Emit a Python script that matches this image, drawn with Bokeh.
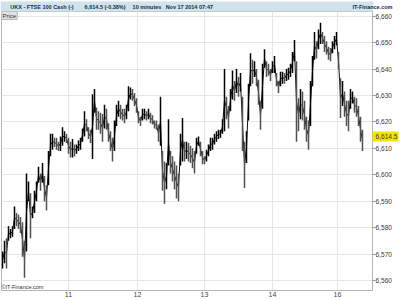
from bokeh.plotting import figure
from bokeh.models import (Range1d, Label, FixedTicker, NumeralTickFormatter,
                          ColumnDataSource, LinearAxis)
from bokeh.embed import file_html
from bokeh.resources import INLINE

highs = [6571.0, 6575.0, 6576.0, 6580.5, 6579.5, 6580.5, 6588.0, 6585.5, 6585.0, 6584.0,
         6582.0, 6575.0, 6600.5, 6597.5, 6593.0, 6588.0, 6594.0, 6597.5, 6603.0, 6600.5,
         6604.5, 6599.5, 6596.0, 6609.0, 6615.5, 6615.5, 6614.0, 6614.0, 6612.5, 6614.5,
         6618.0, 6616.5, 6615.5, 6614.0, 6612.5, 6613.5, 6611.5, 6611.5, 6613.0, 6614.0,
         6617.5, 6624.0, 6621.0, 6618.0, 6617.0, 6630.5, 6632.5, 6625.5, 6624.0, 6623.5,
         6623.0, 6626.5, 6625.0, 6619.5, 6616.5, 6614.0, 6620.5, 6626.5, 6628.0, 6626.5,
         6625.0, 6625.0, 6626.5, 6633.5, 6633.0, 6632.5, 6631.0, 6629.0, 6624.0, 6622.0,
         6625.0, 6625.0, 6624.0, 6625.0, 6623.5, 6622.5, 6620.5, 6620.5, 6619.0, 6629.5,
         6609.0, 6605.0, 6604.5, 6621.0, 6609.0, 6607.0, 6605.0, 6603.5, 6600.5, 6615.5,
         6621.5, 6612.5, 6612.5, 6612.0, 6611.0, 6610.0, 6609.0, 6614.0, 6614.5, 6612.5,
         6609.0, 6607.0, 6609.5, 6611.5, 6614.0, 6614.0, 6615.5, 6616.5, 6617.0, 6617.0,
         6621.0, 6640.0, 6629.5, 6626.0, 6632.5, 6639.5, 6635.5, 6640.0, 6637.0, 6638.5,
         6629.5, 6612.5, 6616.5, 6634.5, 6646.0, 6643.5, 6643.0, 6640.0, 6636.0, 6628.0,
         6642.0, 6647.5, 6643.0, 6642.0, 6640.0, 6643.0, 6645.0, 6638.5, 6635.5, 6639.0,
         6639.0, 6638.5, 6640.0, 6640.5, 6642.0, 6646.5, 6651.0, 6643.0, 6629.0, 6632.5,
         6631.5, 6628.0, 6622.0, 6620.5, 6635.5, 6645.0, 6654.0, 6650.5, 6655.0, 6657.5,
         6654.0, 6652.5, 6650.5, 6648.5, 6648.0, 6650.5, 6652.5, 6654.0, 6646.5, 6636.5,
         6635.5, 6631.5, 6628.0, 6628.0, 6632.5, 6631.5, 6629.5, 6629.0, 6626.0, 6622.0,
         6617.0]
lows = [6564.5, 6566.5, 6564.5, 6575.0, 6576.0, 6576.5, 6579.5, 6580.5, 6579.5, 6578.0,
        6569.0, 6561.0, 6571.0, 6590.0, 6576.0, 6583.5, 6585.5, 6590.0, 6597.0, 6594.0,
        6597.0, 6590.0, 6586.5, 6596.0, 6607.0, 6609.5, 6610.5, 6609.5, 6609.0, 6609.0,
        6611.0, 6612.5, 6612.0, 6608.0, 6606.5, 6606.5, 6607.0, 6608.0, 6609.0, 6609.5,
        6612.5, 6614.5, 6616.5, 6613.5, 6612.0, 6606.0, 6623.5, 6617.0, 6617.0, 6615.5,
        6612.5, 6617.5, 6617.0, 6612.5, 6609.0, 6605.0, 6609.0, 6618.5, 6622.0, 6621.0,
        6620.5, 6619.5, 6621.0, 6624.0, 6628.5, 6628.0, 6626.0, 6623.5, 6619.5, 6618.5,
        6620.5, 6621.0, 6620.5, 6621.0, 6619.5, 6619.0, 6617.5, 6617.0, 6612.5, 6611.0,
        6594.0, 6589.0, 6594.5, 6603.5, 6600.5, 6597.5, 6594.5, 6591.0, 6590.0, 6603.5,
        6605.0, 6605.0, 6606.0, 6605.0, 6604.5, 6602.5, 6600.5, 6608.0, 6611.0, 6607.0,
        6604.0, 6604.0, 6605.0, 6607.0, 6609.0, 6609.5, 6611.5, 6612.5, 6613.5, 6614.0,
        6615.5, 6616.5, 6621.0, 6617.5, 6624.0, 6628.5, 6628.0, 6631.0, 6629.5, 6631.5,
        6609.0, 6595.0, 6604.5, 6620.5, 6633.5, 6634.5, 6637.0, 6633.5, 6626.5, 6617.0,
        6625.0, 6640.5, 6637.0, 6637.5, 6635.5, 6638.5, 6638.5, 6633.5, 6631.0, 6633.5,
        6634.5, 6634.5, 6635.5, 6636.0, 6637.0, 6638.5, 6643.0, 6612.5, 6616.5, 6621.0,
        6620.5, 6617.0, 6612.5, 6609.5, 6618.5, 6633.5, 6643.5, 6644.0, 6647.5, 6649.5,
        6649.5, 6646.5, 6645.5, 6643.5, 6643.0, 6646.0, 6647.5, 6649.0, 6640.0, 6621.5,
        6626.0, 6622.0, 6618.5, 6616.5, 6625.0, 6627.0, 6623.5, 6622.0, 6618.5, 6612.5,
        6609.0]

day_ticks = [33, 67.5, 101, 135, 167.5]
day_labels = ["11", "12", "13", "14", "16"]
price_ticks = [6560, 6570, 6580, 6590, 6600, 6610, 6620, 6630, 6640, 6650, 6660]
last_price = 6614.5
last_price_text = "6,614.5"
header_left = ("UKX - FTSE 100 Cash (-)\u2003\u20036,614.5 (-0.38%)\u2003 10 minutes\u2002 "
               "Nov 17 2014 07:47")
header_right = "IT-Finance.com"

X_START, X_END = -0.5, 185.0
# layout constants: centres (on the bar axis) of the two header texts
HEADER_LEFT_POS = 54.6
HEADER_RIGHT_POS = X_END

idx = list(range(len(highs)))
mids = [(h + l) / 2 for h, l in zip(highs, lows)]
colors = ["#000000" if i == 0 or mids[i] >= mids[i - 1] else "#505050" for i in idx]
src = ColumnDataSource(dict(x=idx, high=highs, low=lows, mid=mids, color=colors))

p = figure(width=400, height=300, output_backend="svg", toolbar_location=None,
           x_range=Range1d(X_START, X_END), y_range=Range1d(6556.2, 6661.8),
           y_axis_location="right", min_border_left=1, min_border_right=28,
           min_border_top=10, min_border_bottom=10)
p.background_fill_color = "white"
p.border_fill_color = "white"
p.outline_line_color = "#b5b5b5"

p.line(x="x", y="mid", line_color="#111111", line_width=1.0, source=src)
p.segment(x0="x", y0="low", x1="x", y1="high", line_color="color", line_width=1.5, source=src)

p.xgrid.ticker = FixedTicker(ticks=day_ticks)
p.ygrid.ticker = FixedTicker(ticks=price_ticks)
p.xgrid.grid_line_color = "#e6e6e6"
p.ygrid.grid_line_color = "#e6e6e6"

xa = p.xaxis[0]
xa.ticker = FixedTicker(ticks=day_ticks)
xa.major_label_overrides = {float(t): l for t, l in zip(day_ticks, day_labels)}
xa.major_tick_out = 0
xa.major_tick_in = 0
xa.minor_tick_out = 0
xa.minor_tick_in = 0
xa.major_label_standoff = 1
xa.major_label_text_font_size = "7px"
xa.major_label_text_font = "Liberation Sans"
xa.major_label_text_color = "#444444"
xa.axis_line_color = "#b5b5b5"

# right price axis; its single minor tick, drawn thick and yellow, marks the last price
ya = p.yaxis[0]
ya.ticker = FixedTicker(ticks=price_ticks + [last_price], minor_ticks=[last_price])
ya.formatter = NumeralTickFormatter(format="0,0")
ya.major_label_overrides = {last_price: last_price_text}
ya.major_tick_out = 3
ya.major_tick_in = 0
ya.minor_tick_out = 26
ya.minor_tick_in = 0
ya.minor_tick_line_width = 10
ya.minor_tick_line_color = "#f2e400"
ya.major_tick_line_color = "#999999"
ya.major_label_standoff = -23
ya.major_label_text_font_size = "6.6px"
ya.major_label_text_font = "Liberation Sans"
ya.major_label_text_color = "#3a3a3a"
ya.axis_line_color = "#b5b5b5"

# header: an axis in the top panel carries the texts; its dense minor ticks paint the band
band = [X_START + 0.5 * k for k in range(int((X_END - X_START) * 2) + 1)]
ha = LinearAxis(ticker=FixedTicker(ticks=[HEADER_LEFT_POS, HEADER_RIGHT_POS], minor_ticks=band))
ha.major_label_overrides = {HEADER_LEFT_POS: header_left, HEADER_RIGHT_POS: header_right}
ha.major_label_text_font = "Liberation Sans"
ha.major_label_text_font_size = "5.5px"
ha.major_label_text_font_style = "bold"
ha.major_label_text_color = "#1c2c44"
ha.major_label_standoff = -8
ha.major_tick_out = 0
ha.major_tick_in = 0
ha.minor_tick_out = 10
ha.minor_tick_in = 0
ha.minor_tick_line_width = 1.6
ha.minor_tick_line_color = "#d0e2ec"
ha.axis_line_color = None
p.add_layout(ha, "above")

p.add_layout(Label(x=1, y=11, x_units="canvas", y_units="canvas", text="Price",
                   text_font="Liberation Sans", text_font_size="6px",
                   text_color="#333333", text_baseline="top",
                   background_fill_color="#e2e2e2", border_line_color="#b5b5b5", padding=1))
p.add_layout(Label(x=1, y=289, x_units="canvas", y_units="canvas", text="\u00a9IT-Finance.com",
                   text_font="Liberation Sans", text_font_size="5.5px",
                   text_color="#333333", text_baseline="bottom"))

open("out.html", "w").write(file_html(p, INLINE))
